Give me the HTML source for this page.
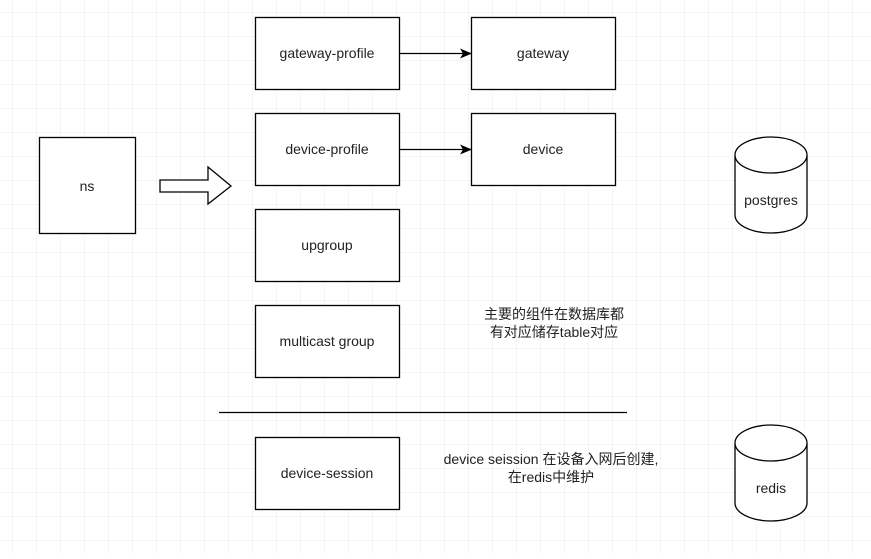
<!DOCTYPE html>
<html><head><style>
body{margin:0;}
svg text{font-family:"Liberation Sans","Noto Sans CJK SC",sans-serif;font-size:14px;fill:#222;}
</style></head><body>
<svg width="871" height="554" xmlns="http://www.w3.org/2000/svg">
<defs>
<pattern id="g" width="24" height="24" patternUnits="userSpaceOnUse" x="13" y="13">
<path d="M24 0V24M0 24H24" fill="none" stroke="#ebebeb" stroke-width="1"/>
</pattern>
<marker id="a" markerWidth="12" markerHeight="12" refX="11" refY="6" orient="auto" markerUnits="userSpaceOnUse"><path d="M0,1 L12,6 L0,11 L3,6z" fill="#000"/></marker>
</defs>
<rect width="871" height="554" fill="#fff"/>
<rect width="871" height="554" fill="url(#g)"/>
<g fill="#fff" stroke="#000" stroke-width="1.3">
<rect x="255.5" y="17.5" width="144" height="72"/>
<rect x="471.5" y="17.5" width="144" height="72"/>
<rect x="255.5" y="113.5" width="144" height="72"/>
<rect x="471.5" y="113.5" width="144" height="72"/>
<rect x="255.5" y="209.5" width="144" height="72"/>
<rect x="255.5" y="305.5" width="144" height="72"/>
<rect x="255.5" y="437.5" width="144" height="72"/>
<rect x="39.5" y="137.5" width="96" height="96"/>
<path d="M160,180 H208 V167 L231,186 L208,204 V192 H160 Z"/>
<path d="M735,155 V215 A36,18 0 0 0 807,215 V155 A36,18 0 0 0 735,155 A36,18 0 0 0 807,155"/>
<path d="M735,443 V503 A36,18 0 0 0 807,503 V443 A36,18 0 0 0 735,443 A36,18 0 0 0 807,443"/>
</g>
<g stroke="#000" stroke-width="1.3">
<line x1="399" y1="53.5" x2="471" y2="53.5" marker-end="url(#a)"/>
<line x1="399" y1="149.5" x2="471" y2="149.5" marker-end="url(#a)"/>
<line x1="219" y1="412.5" x2="627" y2="412.5"/>
</g>
<g text-anchor="middle">
<text x="327" y="58">gateway-profile</text>
<text x="543" y="58">gateway</text>
<text x="327" y="154">device-profile</text>
<text x="543" y="154">device</text>
<text x="327" y="250">upgroup</text>
<text x="327" y="346">multicast group</text>
<text x="327" y="478">device-session</text>
<text x="87" y="191">ns</text>
<text x="771" y="205">postgres</text>
<text x="771" y="493">redis</text>
<text x="554" y="319">主要的组件在数据库都</text>
<text x="554" y="337">有对应储存table对应</text>
<text x="551" y="464">device seission 在设备入网后创建,</text>
<text x="551" y="482">在redis中维护</text>
</g>
</svg>
</body></html>
